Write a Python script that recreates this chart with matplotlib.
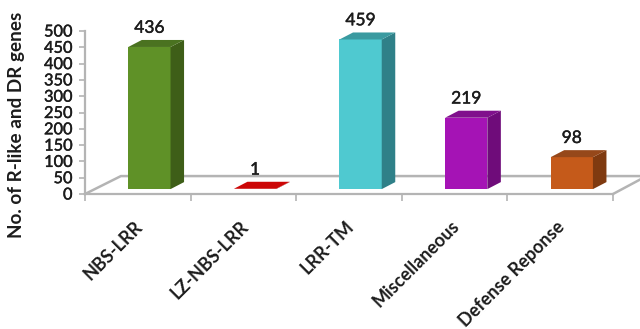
import numpy as np
import matplotlib
matplotlib.use('Agg')
import matplotlib.pyplot as plt
import matplotlib.patheffects as pe
from matplotlib.patches import Polygon
from matplotlib.transforms import ScaledTranslation

categories = ['NBS-LRR', 'LZ-NBS-LRR', 'LRR-TM', 'Miscellaneous', 'Defense Reponse']
gene_counts = [436, 1, 459, 219, 98]
y_ticks = list(range(0, 501, 50))

front_colors = ['#5f9127', '#cc0606', '#4fc9d0', '#a513b5', '#c55a1a']
side_colors = ['#3e5e18', '#8c0404', '#2f8088', '#6f0c7a', '#7f3a10']
top_colors = ['#4a7220', '#cc0606', '#3a9aa0', '#80108c', '#96481a']

# fake 3D offsets, in data units
depth_x = 0.128
depth_y = 21.5
base = 15
bar_left = 0.41
bar_width = 0.4
grey = '#b4b4b4'
text_color = '#1c1c1c'
# thickens the regular weight a little
heavier = [pe.withStroke(linewidth=0.3, foreground=text_color)]

plt.rcParams['font.family'] = ['Lato', 'DejaVu Sans']

fig = plt.figure(figsize=(6.4, 3.29), dpi=100)
ax = fig.add_axes([85 / 640, 1 - 194 / 329, 528 / 640, 163 / 329])
ax.set_xlim(0, len(categories))
ax.set_ylim(0, 500)

# floor of the chart
ax.plot([0, 0.34, 5.26], [0, 55, 55], color=grey, lw=1.8, clip_on=False, zorder=1)
ax.plot([5, 5.26], [0, 45], color=grey, lw=1.8, clip_on=False, zorder=1)

x = np.arange(len(categories)) + bar_left
tops = np.array(gene_counts) + base
ax.bar(x, gene_counts, width=bar_width, bottom=base, align='edge',
       color=front_colors, zorder=3, clip_on=False)

for left, top, side, lid in zip(x, tops, side_colors, top_colors):
    right = left + bar_width
    ax.add_patch(Polygon([(right, base), (right + depth_x, base + depth_y),
                          (right + depth_x, top + depth_y), (right, top)],
                         color=side, lw=0, zorder=3, clip_on=False))
    ax.add_patch(Polygon([(left, top), (right, top),
                          (right + depth_x, top + depth_y), (left + depth_x, top + depth_y)],
                         color=lid, lw=0, zorder=3, clip_on=False))

for left, top, count in zip(x, tops, gene_counts):
    ax.annotate(str(count), (left + bar_width / 2, top + depth_y), xytext=(0, 3),
                textcoords='offset points', ha='center', va='bottom',
                fontsize=12.5, color=text_color, path_effects=heavier)

for side in ('top', 'right'):
    ax.spines[side].set_visible(False)
for side in ('left', 'bottom'):
    ax.spines[side].set_color(grey)
    ax.spines[side].set_linewidth(1.6)

ax.set_yticks(y_ticks)
ax.tick_params(axis='y', length=4, width=1.2, color=grey, pad=5, labelsize=11.8,
               labelcolor=text_color)
for label in ax.get_yticklabels():
    label.set_path_effects(heavier)
ax.set_xticks(np.arange(len(categories) + 1))
ax.tick_params(axis='x', which='major', length=5, width=1.2, color=grey, labelbottom=False)
ax.set_xticks(np.arange(len(categories)) + 0.5, minor=True)
ax.set_xticklabels(categories, minor=True, rotation=45, ha='right', va='top',
                   rotation_mode='anchor', fontsize=13, fontweight='bold', color=text_color)
ax.tick_params(axis='x', which='minor', length=0, pad=17)
# nudge the slanted labels to the left
nudge = ScaledTranslation(-4 / 100, 0, fig.dpi_scale_trans)
for label in ax.get_xticklabels(minor=True):
    label.set_transform(label.get_transform() + nudge)

fig.text(17 / 640, 1 - 125 / 329, 'No. of R-like and DR genes', rotation=90, ha='center',
         va='center', fontsize=13.6, fontweight='bold', color=text_color)

fig.savefig('out.png', dpi=100)
